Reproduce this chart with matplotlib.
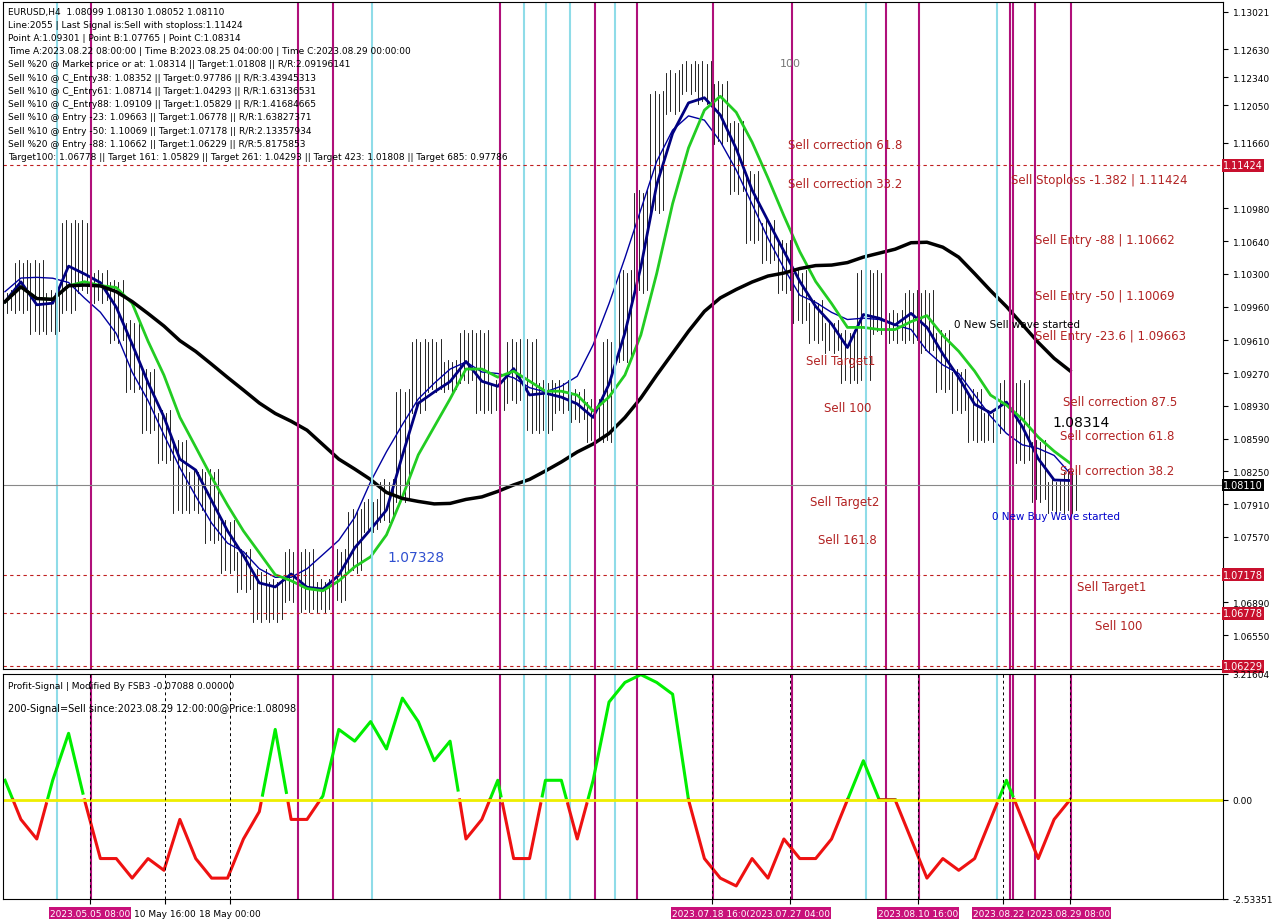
import matplotlib
matplotlib.use("Agg")
import matplotlib.pyplot as plt
import numpy as np
import pandas as pd

closes = [1.1001,1.1032,1.0980,1.1001,1.1074,1.1022,1.1012,1.0970,1.0919,1.0877,1.0846,1.0794,1.0815,1.0763,
          1.0732,1.0712,1.0681,1.0701,1.0732,1.0691,1.0701,1.0732,1.0774,1.0784,1.0805,1.0898,1.0950,1.0919,
          1.0929,1.0960,1.0898,1.0908,1.0950,1.0877,1.0908,1.0898,1.0888,1.0867,1.0950,1.1022,1.1105,1.1208,
          1.1229,1.1239,1.1218,1.1177,1.1125,1.1074,1.1053,1.1022,1.0991,1.0970,1.0960,1.0929,1.1022,1.0980,
          1.0970,1.1001,1.0960,1.0919,1.0898,1.0867,1.0877,1.0908,1.0846,1.0805,1.0794,1.0815]
osc = [0.5,-0.5,-1.0,0.5,1.7,0,-1.5,-1.5,-2.0,-1.5,-1.8,-0.5,-1.5,-2.0,-2.0,-1.0,-0.3,1.8,-0.5,-0.5,0.1,1.8,
       1.5,2.0,1.3,2.6,2.0,1.0,1.5,-1.0,-0.5,0.5,-1.5,-1.5,0.5,0.5,-1.0,0.5,2.5,3.0,3.2,3.0,2.7,0.0,-1.5,-2.0,
       -2.2,-1.5,-2.0,-1.0,-1.5,-1.5,-1.0,0.0,1.0,0.0,0.0,-1.0,-2.0,-1.5,-1.8,-1.5,-0.5,0.5,-0.5,-1.5,-0.5,0.0]
magenta_x = [91,298,333,500,595,637,713,792,886,919,1010,1013,1035,1071]
cyan_x = [57,372,524,546,570,615,866,997]
hlines = [1.11424,1.07178,1.06778,1.06229]
price_ticks = [1.13021,1.12630,1.12340,1.12050,1.11660,1.10980,1.10640,1.10300,1.09960,1.09610,
               1.09270,1.08930,1.08590,1.08250,1.07910,1.07570,1.06890,1.06550]
date_labels = ["2023.05.05 08:00","10 May 16:00","18 May 00:00","2023.07.18 16:00","2023.07.27 04:00",
               "2023.08.10 16:00","2023.08.22 0","2023.08.29 08:00"]
date_x = [90,165,230,712,790,918,1003,1070]

fig = plt.figure(figsize=(12.8,9.2), dpi=100)
W,H = 1280,920
ax = fig.add_axes([3/W, 1-670/H, 1220/W, 667/H])
ax2 = fig.add_axes([3/W, 1-900/H, 1220/W, 225/H])
xmin, xmax = 3, 1223
n = len(closes)
xpos = np.linspace(5, 1070, n)
step = xpos[1]-xpos[0]
s = pd.Series(closes)
for i in range(n):
    o = closes[i-1] if i>0 else closes[i]
    c = closes[i]
    hi, lo = max(o,c)+0.0012, min(o,c)-0.0012
    for k,f in enumerate(np.linspace(-0.4,0.4,4)):
        ax.plot([xpos[i]+f*step]*2,[lo+0.0003*(k%2),hi-0.0003*((k+1)%2)],color="black",lw=0.6)
ax.plot(xpos, s.rolling(7,min_periods=1,center=True).mean()+0.0008, color="#0000a0", lw=1)
ax.plot(xpos, s.ewm(span=3).mean(), color="#000080", lw=2)
ax.plot(xpos, s.rolling(5,min_periods=1).mean(), color="#22cc22", lw=2)
ax.plot(xpos, s.rolling(20,min_periods=1).mean(), color="black", lw=2.5)
for x in magenta_x:
    ax.axvline(x, color="#b0107a", lw=1.5); ax2.axvline(x, color="#b0107a", lw=1.5)
for x in cyan_x:
    ax.axvline(x, color="#8fdce8", lw=1.5); ax2.axvline(x, color="#8fdce8", lw=1.5)
for h in hlines:
    ax.axhline(h, color="#c02020", ls=(0,(3,3)), lw=0.8)
    ax.text(1.0, h, f"{h:.5f}", transform=ax.get_yaxis_transform(), fontsize=7, color="white",
            va="center", ha="left", bbox=dict(fc="#c8102e", ec="none", pad=1))
ax.axhline(1.08110, color="#888888", lw=0.8)
ax.text(1.0, 1.08110, "1.08110", transform=ax.get_yaxis_transform(), fontsize=7, color="white",
        va="center", ha="left", bbox=dict(fc="black", ec="none", pad=1))
labels = [("Sell Stoploss -1.382 | 1.11424",1011,1.1128),("Sell Entry -88 | 1.10662",1035,1.1066),
          ("Sell Entry -50 | 1.10069",1035,1.1007),("Sell Entry -23.6 | 1.09663",1035,1.0966),
          ("Sell correction 87.5",1063,1.0898),("Sell correction 61.8",1060,1.0862),
          ("Sell correction 38.2",1060,1.0826),("Sell Target1",1077,1.0706),("Sell 100",1095,1.0665),
          ("Sell Target2",810,1.0794),("Sell 161.8",818,1.0754),("Sell 100",824,1.0891),("Sell Target1",806,1.0940),
          ("Sell correction 61.8",788,1.1164),("Sell correction 33.2",788,1.1124)]
for t,x,y in labels:
    ax.text(x, y, t, fontsize=8.5, color="#b22222", va="center")
ax.text(992, 1.0776, "0 New Buy Wave started", fontsize=7.5, color="#0000cc")
ax.text(954, 1.0975, "0 New Sell wave started", fontsize=7.5, color="black")
ax.text(387, 1.0732, "1.07328", fontsize=10, color="#3050d0")
ax.text(1052, 1.0872, "1.08314", fontsize=10, color="black")
ax.text(780, 1.1246, "100", fontsize=8, color="#777777")
info = ["EURUSD,H4  1.08099 1.08130 1.08052 1.08110","Line:2055 | Last Signal is:Sell with stoploss:1.11424",
 "Point A:1.09301 | Point B:1.07765 | Point C:1.08314","Time A:2023.08.22 08:00:00 | Time B:2023.08.25 04:00:00 | Time C:2023.08.29 00:00:00",
 "Sell %20 @ Market price or at: 1.08314 || Target:1.01808 || R/R:2.09196141",
 "Sell %10 @ C_Entry38: 1.08352 || Target:0.97786 || R/R:3.43945313",
 "Sell %10 @ C_Entry61: 1.08714 || Target:1.04293 || R/R:1.63136531",
 "Sell %10 @ C_Entry88: 1.09109 || Target:1.05829 || R/R:1.41684665",
 "Sell %10 @ Entry -23: 1.09663 || Target:1.06778 || R/R:1.63827371",
 "Sell %10 @ Entry -50: 1.10069 || Target:1.07178 || R/R:2.13357934",
 "Sell %20 @ Entry -88: 1.10662 || Target:1.06229 || R/R:5.8175853",
 "Target100: 1.06778 || Target 161: 1.05829 || Target 261: 1.04293 || Target 423: 1.01808 || Target 685: 0.97786"]
for k,t in enumerate(info):
    ax.text(0.004, 0.993-k*0.0198, t, transform=ax.transAxes, fontsize=6.5, va="top")
ax.set_xlim(xmin,xmax); ax.set_ylim(1.0620,1.1312)
ax.yaxis.tick_right(); ax.set_yticks(price_ticks); ax.set_yticklabels([f"{p:.5f}" for p in price_ticks], fontsize=6.5)
ax.set_xticks([])
o = np.array(osc)
xs = np.linspace(5,1070,(n-1)*10+1)
oi = np.interp(xs, xpos, o)
ax2.plot(xs, np.where(oi>=0, oi, np.nan), color="#00ee00", lw=2.2)
ax2.plot(xs, np.where(oi<=0, oi, np.nan), color="#ee1111", lw=2.2)
ax2.axhline(0, color="#eeee00", lw=2)
for x in date_x:
    ax2.axvline(x, color="black", ls=(0,(3,3)), lw=0.7)
ax2.text(0.004,0.97,"Profit-Signal | Modified By FSB3 -0.07088 0.00000",transform=ax2.transAxes,fontsize=6.5,va="top")
ax2.text(0.004,0.87,"200-Signal=Sell since:2023.08.29 12:00:00@Price:1.08098",transform=ax2.transAxes,fontsize=7,va="top")
ax2.set_xlim(xmin,xmax); ax2.set_ylim(-2.53351,3.21604)
ax2.yaxis.tick_right(); ax2.set_yticks([3.21604,0.0,-2.53351]); ax2.set_yticklabels(["3.21604","0.00","-2.53351"],fontsize=6.5)
ax2.set_xticks(date_x); ax2.set_xticklabels(date_labels, fontsize=6.5)
for lab,t in zip(ax2.get_xticklabels(), date_labels):
    if t.startswith("2023"):
        lab.set_color("white"); lab.set_bbox(dict(fc="#c8107a", ec="none", pad=1))
fig.savefig("out.png", dpi=100, facecolor="white")
